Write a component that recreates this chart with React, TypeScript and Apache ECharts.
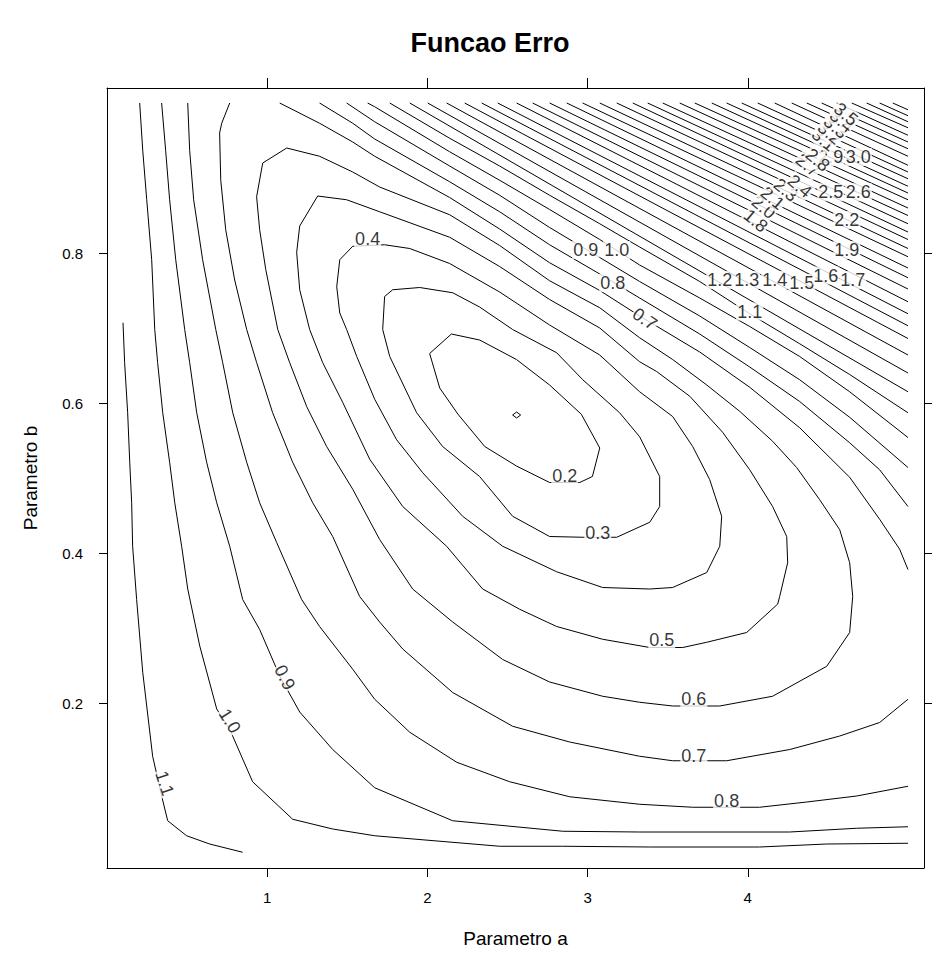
import React, { useEffect, useRef } from "react";
import * as echarts from "echarts";

const FONT = "'Liberation Sans', Arial, sans-serif";

const xTicks = [1, 2, 3, 4];
const yTicks = [0.2, 0.4, 0.6, 0.8];

// closed contours around the minimum
const c01 = [[2.532,0.584],[2.557,0.588],[2.582,0.584],[2.557,0.580],[2.532,0.584]];
const c02 = [[2.150,0.692],[2.326,0.684],[2.556,0.658],[2.763,0.624],[2.961,0.585],[3.076,0.540],[3.030,0.502],[2.951,0.494],[2.763,0.494],[2.556,0.516],[2.358,0.542],[2.191,0.585],[2.077,0.620],[2.014,0.666],[2.150,0.692]];
const c03 = [[1.733,0.742],[1.783,0.751],[1.952,0.754],[2.158,0.747],[2.326,0.728],[2.532,0.698],[2.807,0.667],[2.970,0.631],[3.200,0.587],[3.325,0.555],[3.450,0.502],[3.450,0.462],[3.388,0.441],[3.182,0.421],[2.970,0.421],[2.763,0.422],[2.532,0.449],[2.326,0.502],[2.095,0.542],[1.933,0.587],[1.765,0.662],[1.721,0.698],[1.733,0.742]];
const c04 = [[1.733,0.811],[1.890,0.806],[2.139,0.786],[2.451,0.748],[2.763,0.704],[3.076,0.664],[3.325,0.615],[3.531,0.582],[3.656,0.542],[3.762,0.498],[3.837,0.449],[3.825,0.409],[3.744,0.374],[3.531,0.354],[3.388,0.352],[3.094,0.354],[2.807,0.375],[2.470,0.409],[2.220,0.449],[1.971,0.507],[1.808,0.551],[1.671,0.605],[1.559,0.662],[1.496,0.698],[1.453,0.720],[1.434,0.755],[1.453,0.791],[1.534,0.809],[1.733,0.811]];
const c05 = [[1.496,0.871],[1.702,0.855],[2.139,0.821],[2.451,0.782],[2.763,0.738],[3.076,0.700],[3.325,0.655],[3.431,0.642],[3.638,0.609],[3.843,0.561],[4.012,0.511],[4.155,0.462],[4.243,0.422],[4.249,0.387],[4.199,0.342],[4.187,0.332],[3.993,0.294],[3.744,0.281],[3.594,0.274],[3.388,0.274],[3.094,0.285],[2.807,0.302],[2.576,0.325],[2.345,0.352],[2.120,0.409],[1.846,0.462],[1.640,0.525],[1.471,0.601],[1.346,0.654],[1.265,0.698],[1.203,0.751],[1.184,0.801],[1.203,0.836],[1.315,0.876],[1.496,0.871]];
const c06 = [[1.122,0.940],[1.327,0.929],[1.534,0.908],[1.702,0.888],[2.139,0.851],[2.451,0.810],[2.763,0.763],[3.076,0.727],[3.325,0.687],[3.531,0.658],[3.744,0.624],[3.949,0.589],[4.155,0.549],[4.305,0.514],[4.449,0.471],[4.574,0.431],[4.636,0.387],[4.655,0.342],[4.636,0.294],[4.493,0.249],[4.155,0.209],[3.825,0.196],[3.531,0.196],[3.325,0.201],[3.094,0.209],[2.763,0.228],[2.470,0.258],[2.158,0.308],[1.908,0.352],[1.702,0.418],[1.534,0.485],[1.371,0.542],[1.247,0.595],[1.140,0.654],[1.066,0.698],[0.991,0.778],[0.953,0.831],[0.934,0.875],[0.972,0.920],[1.122,0.940]];

// open contours: upper (top edge -> right edge) and lower (left/top -> bottom -> right edge)
const c07Upper = [[1.078,1.000],[1.327,0.973],[1.534,0.948],[1.671,0.929],[2.139,0.874],[2.451,0.832],[2.763,0.787],[3.076,0.750],[3.325,0.716],[3.700,0.668],[4.012,0.621],[4.324,0.567],[4.636,0.501],[4.823,0.445],[4.948,0.405],[5.000,0.378]];
const c07Lower = [[0.766,1.000],[0.716,0.973],[0.703,0.960],[0.710,0.897],[0.741,0.831],[0.797,0.764],[0.872,0.698],[0.934,0.654],[1.034,0.587],[1.159,0.521],[1.284,0.467],[1.409,0.422],[1.577,0.342],[1.702,0.308],[1.846,0.272],[2.158,0.214],[2.532,0.169],[2.888,0.148],[3.325,0.129],[3.531,0.123],[3.868,0.123],[4.262,0.138],[4.574,0.156],[4.823,0.174],[5.000,0.205]];
const c08Upper = [[1.327,1.000],[1.534,0.973],[1.671,0.952],[2.139,0.895],[2.451,0.855],[2.763,0.811],[3.076,0.772],[3.325,0.740],[3.700,0.692],[4.012,0.648],[4.324,0.602],[4.636,0.547],[4.823,0.511],[5.000,0.462]];
const c08Lower = [[0.504,1.000],[0.516,0.937],[0.541,0.871],[0.597,0.791],[0.679,0.698],[0.722,0.654],[0.785,0.587],[0.872,0.521],[0.953,0.467],[1.059,0.414],[1.215,0.338],[1.327,0.302],[1.534,0.245],[1.671,0.205],[1.890,0.161],[2.183,0.121],[2.514,0.095],[2.888,0.075],[3.325,0.065],[3.656,0.061],[4.074,0.061],[4.368,0.068],[4.680,0.076],[5.000,0.089]];
const c09Upper = [[1.496,1.000],[1.671,0.975],[2.139,0.916],[2.451,0.877],[2.763,0.834],[3.076,0.794],[3.325,0.762],[3.700,0.716],[4.012,0.674],[4.324,0.631],[4.636,0.581],[5.000,0.514]];
const c09Lower = [[0.341,1.000],[0.366,0.937],[0.391,0.871],[0.429,0.791],[0.485,0.698],[0.516,0.654],[0.560,0.587],[0.622,0.521],[0.685,0.467],[0.766,0.409],[0.847,0.338],[0.953,0.298],[1.078,0.236],[1.203,0.188],[1.409,0.138],[1.671,0.087],[2.158,0.043],[2.845,0.029],[3.325,0.028],[4.262,0.028],[4.680,0.033],[5.000,0.035]];
const c10Upper = [[1.627,1.000],[1.671,0.995],[2.139,0.935],[2.451,0.897],[2.763,0.858],[3.076,0.818],[3.325,0.784],[3.700,0.740],[4.012,0.702],[4.324,0.662],[4.636,0.615],[5.000,0.554]];
const c10Lower = [[0.204,1.000],[0.223,0.937],[0.248,0.871],[0.279,0.791],[0.298,0.698],[0.316,0.654],[0.348,0.587],[0.391,0.521],[0.423,0.467],[0.466,0.409],[0.504,0.352],[0.579,0.276],[0.685,0.192],[0.766,0.165],[0.909,0.095],[1.159,0.045],[1.409,0.032],[1.671,0.023],[2.451,0.009],[2.845,0.009],[3.388,0.008],[4.074,0.008],[4.493,0.012],[5.000,0.013]];
const c11Upper = [[1.765,1.000],[2.139,0.953],[2.451,0.916],[2.763,0.877],[3.076,0.839],[3.325,0.808],[3.700,0.762],[4.012,0.719],[4.324,0.679],[4.636,0.638],[5.000,0.587]];
const c11Lower = [[0.100,0.707],[0.110,0.654],[0.129,0.587],[0.142,0.521],[0.154,0.467],[0.160,0.409],[0.185,0.338],[0.223,0.241],[0.285,0.129],[0.341,0.076],[0.379,0.043],[0.497,0.023],[0.641,0.012],[0.847,0.001]];

// the steep family in the upper right: where each level leaves the top edge (b = 1) and meets the right edge (a = 5)
const diagLevels = [1.2,1.3,1.4,1.5,1.6,1.7,1.8,1.9,2.0,2.1,2.2,2.3,2.4,2.5,2.6,2.7,2.8,2.9,3.0,3.1,3.2,3.3,3.4,3.5,3.6,3.7,3.8,3.9,4.0,4.1,4.2];
const diagTopA = [1.890,2.002,2.120,2.233,2.339,2.439,2.557,2.657,2.763,2.870,2.969,3.076,3.182,3.282,3.375,3.469,3.575,3.669,3.775,3.868,3.962,4.062,4.168,4.274,4.368,4.461,4.555,4.649,4.742,4.823,4.905];
const diagRightB = [0.615,0.640,0.664,0.686,0.703,0.719,0.735,0.752,0.767,0.780,0.795,0.806,0.818,0.828,0.839,0.850,0.860,0.871,0.880,0.889,0.899,0.908,0.917,0.929,0.939,0.948,0.957,0.967,0.975,0.983,0.991];

const pieces = [
  { level: 0.1, pts: c01 }, { level: 0.2, pts: c02 }, { level: 0.3, pts: c03 },
  { level: 0.4, pts: c04 }, { level: 0.5, pts: c05 }, { level: 0.6, pts: c06 },
  { level: 0.7, pts: c07Upper }, { level: 0.7, pts: c07Lower },
  { level: 0.8, pts: c08Upper }, { level: 0.8, pts: c08Lower },
  { level: 0.9, pts: c09Upper }, { level: 0.9, pts: c09Lower },
  { level: 1.0, pts: c10Upper }, { level: 1.0, pts: c10Lower },
  { level: 1.1, pts: c11Upper }, { level: 1.1, pts: c11Lower },
];

// contour labels: text, a, b, rotation
const labelTexts = ["0.2","0.3","0.4","0.5","0.6","0.7","0.8","0.9","1.0","1.1","0.9","1.0","0.8","0.7","1.1","1.2","1.3","1.4","1.5","1.6","1.7","1.9","2.2","2.5","2.6","2.9","3.0","1.8","2.0","2.1","2.3","2.4","2.7","2.8","3.1","3.2","3.3","3.4","3.5"];
const labelA = [2.857,3.063,1.627,3.463,3.663,3.663,3.868,1.109,0.766,0.360,2.988,3.182,3.157,3.357,4.012,3.825,3.993,4.168,4.337,4.487,4.655,4.618,4.618,4.518,4.690,4.518,4.690,4.050,4.099,4.155,4.237,4.324,4.374,4.436,4.474,4.512,4.549,4.586,4.612];
const labelB = [0.503,0.427,0.819,0.284,0.205,0.130,0.069,0.234,0.176,0.093,0.804,0.804,0.760,0.712,0.722,0.764,0.764,0.764,0.760,0.770,0.764,0.804,0.844,0.881,0.881,0.928,0.928,0.843,0.861,0.873,0.884,0.889,0.917,0.924,0.951,0.960,0.968,0.976,0.985];
const labelRot = [0,0,0,0,0,0,0,-63,-58,-72,0,0,0,-35,0,0,0,0,0,0,0,0,0,0,0,0,0,-40,-40,-40,-40,-40,-40,-40,-40,-40,-40,-40,-40];

export default function App() {
  const ref = useRef<HTMLDivElement>(null);
  useEffect(() => {
    if (!ref.current) return;
    const chart = echarts.init(ref.current, undefined, { renderer: "svg" });
    const lineStyle = { color: "#000", width: 1 };
    const contourSeries: any[] = pieces.map((p) => ({
      type: "line",
      name: "level " + p.level,
      data: p.pts,
      symbol: "none",
      showSymbol: false,
      lineStyle,
      silent: true,
      z: 2,
    }));
    diagLevels.forEach((lv, i) => {
      contourSeries.push({
        type: "line",
        name: "level " + lv,
        data: [[diagTopA[i], 1.0], [5.0, diagRightB[i]]],
        symbol: "none",
        showSymbol: false,
        lineStyle,
        silent: true,
        z: 2,
      });
    });
    const labelSeries = {
      type: "scatter",
      symbolSize: 0,
      silent: true,
      z: 5,
      label: {
        show: true,
        position: "inside",
        color: "#000",
        fontSize: 18,
        fontFamily: FONT,
        backgroundColor: "#fff",
        padding: [0, 1],
      },
      data: labelTexts.map((t, i) => ({
        value: [labelA[i], labelB[i]],
        label: { formatter: t, rotate: labelRot[i] },
      })),
    };
    const axisCommon = {
      type: "value",
      axisLine: { show: true, onZero: false, lineStyle: { color: "#000", width: 1 } },
      splitLine: { show: false },
    };
    chart.setOption({
      animation: false,
      backgroundColor: "#fff",
      title: {
        text: "Funcao Erro",
        left: 485,
        textAlign: "center",
        top: 24,
        textStyle: { fontSize: 27, fontWeight: "bold", color: "#000", fontFamily: FONT },
      },
      grid: { left: 107, top: 88, right: 14, bottom: 84, containLabel: false },
      xAxis: [
        {
          ...axisCommon,
          position: "bottom",
          min: 0,
          max: 5.1,
          axisTick: { show: true, length: 9, customValues: xTicks, lineStyle: { color: "#000" } },
          axisLabel: { customValues: xTicks, margin: 22, color: "#000", fontSize: 15, fontFamily: FONT },
          name: "Parametro a",
          nameLocation: "middle",
          nameGap: 61,
          nameTextStyle: { fontSize: 19, color: "#000", fontFamily: FONT },
        },
        {
          ...axisCommon,
          position: "top",
          min: 0,
          max: 5.1,
          axisTick: { show: true, length: 10, customValues: xTicks, lineStyle: { color: "#000" } },
          axisLabel: { show: false },
        },
      ],
      yAxis: [
        {
          ...axisCommon,
          position: "left",
          min: -0.02,
          max: 1.02,
          axisTick: { show: true, length: 8, customValues: yTicks, lineStyle: { color: "#000" } },
          axisLabel: {
            customValues: yTicks,
            margin: 24,
            color: "#000",
            fontSize: 15,
            fontFamily: FONT,
            formatter: (v: number) => v.toFixed(1),
          },
          name: "Parametro b",
          nameLocation: "middle",
          nameGap: 67,
          nameRotate: 90,
          nameTextStyle: { fontSize: 19, color: "#000", fontFamily: FONT },
        },
        {
          ...axisCommon,
          position: "right",
          min: -0.02,
          max: 1.02,
          axisTick: { show: true, length: 8, customValues: yTicks, lineStyle: { color: "#000" } },
          axisLabel: { show: false },
        },
      ],
      series: [...contourSeries, labelSeries],
    });
    return () => chart.dispose();
  }, []);
  return (
    <div
      ref={ref}
      style={{ position: "absolute", left: 0, top: 0, width: 938, height: 953, background: "#fff" }}
    />
  );
}
